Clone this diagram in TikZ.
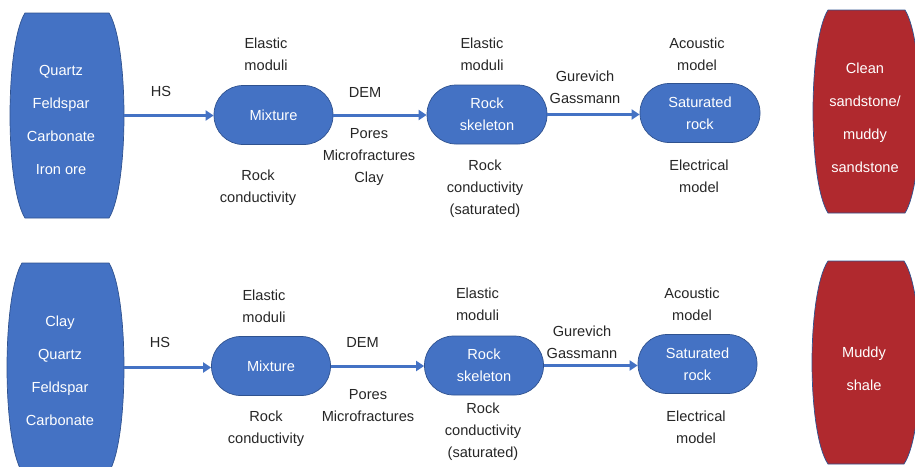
\documentclass[tikz,border=0pt]{standalone}
\usepackage{fontspec}
\setmainfont{Liberation Sans}
\usetikzlibrary{arrows.meta,calc}
\definecolor{boxblue}{HTML}{4472C4}
\definecolor{edgeblue}{HTML}{2F528F}
\definecolor{boxred}{HTML}{B0292E}
\definecolor{labelgray}{HTML}{262626}
\newcommand\drawbarrel[6]{%
  \pgfmathsetmacro\brlA{#1+#5}\pgfmathsetmacro\brlB{#2-#5}%
  \pgfmathsetmacro\brlCl{#1-#5/3}\pgfmathsetmacro\brlCr{#2+#5/3}%
  \pgfmathsetmacro\brlT{#3+0.155*(#4-#3)}\pgfmathsetmacro\brlU{#4-0.155*(#4-#3)}%
  \path[#6] (\brlA,#3) -- (\brlB,#3) .. controls (\brlCr,\brlT) and (\brlCr,\brlU) .. (\brlB,#4)
    -- (\brlA,#4) .. controls (\brlCl,\brlU) and (\brlCl,\brlT) .. (\brlA,#3) -- cycle;}
\tikzset{
  pill/.style={draw=edgeblue, line width=0.7pt, fill=boxblue, rounded corners=29pt,
    minimum width=119pt, minimum height=59pt, inner sep=0pt, text=white, align=center,
    font=\fontsize{14.6}{22}\selectfont},
  lbl/.style={text=labelgray, align=center, inner sep=0pt, font=\fontsize{14.6}{22}\selectfont},
  bigtxt/.style={text=white, align=center, inner sep=0pt, font=\fontsize{14.6}{33}\selectfont},
  ghost/.style={inner sep=0pt, outer sep=0pt},
  arr/.style={draw=boxblue, line width=3pt, -{Triangle[length=8pt,width=10pt]}},
  bluefill/.style={fill=boxblue, draw=edgeblue, line width=0.7pt},
  redfill/.style={fill=boxred, draw=edgeblue, line width=0.7pt}
}
\begin{document}
\begin{tikzpicture}[x=1pt,y=-1pt]
\clip (0,0) rectangle (915,466);
% ---------- top row ----------
\drawbarrel{10}{124}{13}{218}{15}{bluefill}
\node[ghost, minimum width=114pt, minimum height=205pt] (src1) at (67,115.5) {};
\node[bigtxt] (src1t) at (61,119.5) {Quartz\\Feldspar\\Carbonate\\Iron ore};
\drawbarrel{813}{920}{10}{213}{15}{redfill}
\node[ghost, minimum width=107pt, minimum height=203pt] (red1) at (866.5,111.5) {};
\node[bigtxt] (red1t) at (865,117.5) {Clean\\sandstone/\\muddy\\sandstone};

\node[pill] (mix1) at (273.5,115) {Mixture};
\node[pill, minimum width=120pt] (rs1) at (487,114.5) {Rock\\skeleton};
\node[pill, minimum width=120pt] (sat1) at (700,113) {Saturated\\rock};

\draw[arr] (src1.east) -- (src1.east -| mix1.west);
\draw[arr] (mix1.east) -- (mix1.east -| rs1.west);
\draw[arr] (rs1.east) -- (rs1.east -| sat1.west);

\node[lbl] (hs1) at (161,91) {HS};
\node[lbl] (em1a) at (266,54) {Elastic\\moduli};
\node[lbl] (rc1) at (258,187.5) {Rock\\conductivity};
\node[lbl] (dem1) at (365,92) {DEM};
\node[lbl] (pm1) at (369,156.5) {Pores\\Microfractures\\Clay};
\node[lbl] (em1b) at (482,54) {Elastic\\moduli};
\node[lbl] (rc1b) at (485,188.5) {Rock\\conductivity\\(saturated)};
\node[lbl] (gg1) at (585,87) {Gurevich\\Gassmann};
\node[lbl] (ac1) at (697,54) {Acoustic\\model};
\node[lbl] (el1) at (699,176) {Electrical\\model};

% ---------- bottom row ----------
\drawbarrel{7}{124}{263}{472}{15}{bluefill}
\node[ghost, minimum width=117pt, minimum height=209pt] (src2) at (65.5,367.5) {};
\node[bigtxt] (src2t) at (60,370.5) {Clay\\Quartz\\Feldspar\\Carbonate};
\drawbarrel{812}{920}{261}{464}{16}{redfill}
\node[ghost, minimum width=108pt, minimum height=203pt] (red2) at (866,362.5) {};
\node[bigtxt] (red2t) at (864,368.5) {Muddy\\shale};

\node[pill] (mix2) at (271,366) {Mixture};
\node[pill] (rs2) at (484,365.5) {Rock\\skeleton};
\node[pill] (sat2) at (697.5,364) {Saturated\\rock};

\draw[arr] (src2.east) -- (src2.east -| mix2.west);
\draw[arr] (mix2.east) -- (mix2.east -| rs2.west);
\draw[arr] (rs2.east) -- (rs2.east -| sat2.west);

\node[lbl] (hs2) at (160,342) {HS};
\node[lbl] (em2a) at (264,306) {Elastic\\moduli};
\node[lbl] (rc2) at (266,429) {Rock\\conductivity};
\node[lbl] (dem2) at (362.5,342) {DEM};
\node[lbl] (pm2) at (368,406) {Pores\\Microfractures};
\node[lbl] (em2b) at (477.5,304) {Elastic\\moduli};
\node[lbl] (rc2b) at (483,432) {Rock\\conductivity\\(saturated)};
\node[lbl] (gg2) at (582,342.5) {Gurevich\\Gassmann};
\node[lbl] (ac2) at (692,304) {Acoustic\\model};
\node[lbl] (el2) at (696,427) {Electrical\\model};
\end{tikzpicture}
\end{document}
